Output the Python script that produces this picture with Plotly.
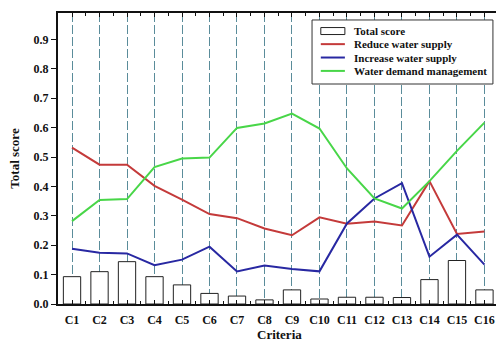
import plotly.graph_objects as go

categories = [f"C{i}" for i in range(1, 17)]
total_score = [0.093, 0.110, 0.144, 0.093, 0.065, 0.036, 0.027, 0.014, 0.048, 0.017, 0.023, 0.023, 0.022, 0.083, 0.148, 0.048]
reduce_supply = [0.532, 0.474, 0.474, 0.402, 0.355, 0.306, 0.292, 0.257, 0.234, 0.295, 0.273, 0.281, 0.267, 0.418, 0.238, 0.247]
increase_supply = [0.188, 0.174, 0.172, 0.132, 0.151, 0.195, 0.111, 0.131, 0.119, 0.111, 0.274, 0.359, 0.411, 0.161, 0.236, 0.134]
demand_mgmt = [0.282, 0.354, 0.357, 0.466, 0.495, 0.498, 0.599, 0.614, 0.648, 0.597, 0.461, 0.359, 0.325, 0.418, 0.521, 0.617]
y_ticks = [0.0, 0.1, 0.2, 0.3, 0.4, 0.5, 0.6, 0.7, 0.8, 0.9]

series_names = ["Total score", "Reduce water supply", "Increase water supply", "Water demand management"]
line_colors = ["#222222", "#c43a3a", "#2828a2", "#48d648"]

xpos = list(range(1, len(categories) + 1))
FONT = "Liberation Serif"

fig = go.Figure()
fig.add_trace(go.Bar(x=xpos, y=total_score, name=series_names[0], width=0.63,
                     marker=dict(color="white", line=dict(color=line_colors[0], width=1))))
for vals, nm, col in zip([reduce_supply, increase_supply, demand_mgmt], series_names[1:], line_colors[1:]):
    fig.add_trace(go.Scatter(x=xpos, y=vals, name=nm, mode="lines",
                             line=dict(color=col, width=2)))

# compact boxed legend (drawn in paper coordinates)
shapes = [dict(type="rect", xref="paper", yref="paper", x0=0.580, x1=0.993, y0=0.756, y1=0.976,
               line=dict(color="#333", width=1), fillcolor="white", layer="above")]
annotations = []
item_y = [0.938, 0.893, 0.847, 0.801]
for i, (nm, col) in enumerate(zip(series_names, line_colors)):
    yy = item_y[i]
    if i == 0:
        shapes.append(dict(type="rect", xref="paper", yref="paper", x0=0.600, x1=0.655,
                           y0=yy - 0.012, y1=yy + 0.012, line=dict(color=col, width=1),
                           fillcolor="white", layer="above"))
    else:
        shapes.append(dict(type="line", xref="paper", yref="paper", x0=0.600, x1=0.655,
                           y0=yy, y1=yy, line=dict(color=col, width=2), layer="above"))
    annotations.append(dict(text=nm, xref="paper", yref="paper", x=0.671, y=yy,
                            xanchor="left", yanchor="middle", showarrow=False,
                            font=dict(family=FONT, size=11, weight="bold", color="#111")))

annotations.append(dict(text="Criteria", xref="paper", yref="paper", x=0.505, y=0,
                        xanchor="center", yanchor="middle", yshift=-30, showarrow=False,
                        font=dict(family=FONT, size=13, weight="bold", color="#111")))

fig.update_layout(
    width=496, height=342,
    margin=dict(l=58, r=0, t=13, b=38),
    paper_bgcolor="white", plot_bgcolor="white",
    font=dict(family=FONT, color="#111", size=12, weight="bold"),
    showlegend=False,
    shapes=shapes, annotations=annotations,
)
fig.update_xaxes(
    range=[0.49, 16.42], tickvals=xpos, ticktext=categories, automargin=False,
    showgrid=True, gridcolor="#5a8c9a", griddash="9px,3px", gridwidth=1,
    showline=True, linecolor="#111", linewidth=2, mirror="ticks",
    ticks="inside", ticklen=4, tickcolor="#111", ticklabelstandoff=4,
    minor=dict(tickvals=[x + 0.5 for x in xpos], ticks="inside", ticklen=3, tickcolor="#111", showgrid=False),
    tickfont=dict(family=FONT, size=12, weight="bold"),
    zeroline=False,
)
fig.update_yaxes(
    range=[0, 0.99], tickvals=y_ticks, tickformat=".1f", automargin=False,
    showgrid=False, showline=True, linecolor="#111", linewidth=2, mirror=False,
    ticks="outside", ticklen=5, tickcolor="#111",
    tickfont=dict(family=FONT, size=12, weight="bold"),
    title=dict(text="Total score", font=dict(family=FONT, size=13, weight="bold"), standoff=11),
    zeroline=False,
)

fig.write_html("out.html")
